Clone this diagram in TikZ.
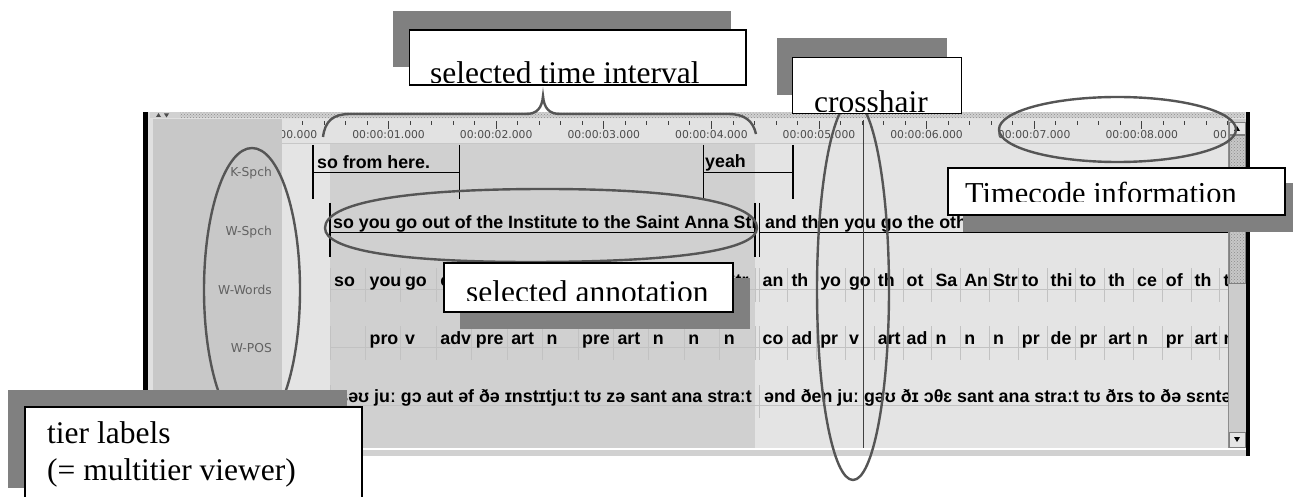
\documentclass[tikz,border=0pt]{standalone}
\usepackage{fontspec}
\setmainfont{Liberation Serif}
\newfontfamily\uifont{DejaVu Sans}
\newfontfamily\annfont{Liberation Sans}
\usetikzlibrary{patterns}
\definecolor{panel}{HTML}{C8C8C8}
\definecolor{trackbg}{HTML}{E4E4E4}
\definecolor{selbg}{HTML}{D0D0D0}
\definecolor{rulerbg}{HTML}{E2E2E2}
\definecolor{gridln}{HTML}{C2C2C2}
\definecolor{shade}{HTML}{808080}
\definecolor{markup}{HTML}{555555}
\tikzset{
  annot/.style={font=\annfont\bfseries\fontsize{17.8}{19}\selectfont, inner sep=0pt, anchor=base west},
  tierlab/.style={font=\uifont\fontsize{12.3}{14}\selectfont, text=black!62, inner sep=0pt, anchor=base east},
  timelab/.style={font=\uifont\fontsize{10.8}{12}\selectfont, text=black!70, inner sep=0pt, anchor=base},
  callout/.style={font=\fontsize{31.5}{37}\selectfont, inner sep=0pt, anchor=base west},
  ring/.style={draw=markup, line width=2.4pt},
  shadowbox/.style={fill=shade},
  framebox/.style={fill=white, draw=black, line width=1.4pt},
  thickbar/.style={line width=1.8pt},
  thinbar/.style={line width=0.9pt},
  cellsep/.style={draw=gridln, line width=0.8pt},
}
\begin{document}
\begin{tikzpicture}[x=1pt,y=-1pt]
\useasboundingbox (0,0) rectangle (1293,497);
\fill[white] (0,0) rectangle (1293,497);

% ---------- viewer window ----------
\fill[black!12] (148,112) rectangle (1246,456);
\fill[black!18] (150,112.5) rectangle (1245,118);
\fill[pattern=crosshatch dots, pattern color=black!45] (180,112.5) rectangle (1245,118);
\fill[black!70] (156,117) -- (158.5,113) -- (161,117) -- cycle;
\fill[black!70] (164,113.5) -- (169,113.5) -- (166.5,117.5) -- cycle;
\fill[panel] (153,119) rectangle (282,448);
\fill[rulerbg] (282,119) rectangle (1228,143);
\fill[trackbg] (282,143) rectangle (1228,448);
\fill[selbg] (330,143) rectangle (755,448);
\draw[black!22, line width=0.8pt] (282,143) -- (1228,143);
\fill[white] (148,448) rectangle (1246,450);
\fill[black!18] (148,450) rectangle (1246,456);

% time ruler
\begin{scope}
  \clip (282,119) rectangle (1228,143);
  \foreach \k in {0,...,47} {
    \pgfmathsetmacro\tx{281+21.52*\k}
    \pgfmathtruncatemacro\major{mod(\k,5)==0 ? 1 : 0}
    \ifnum\major=1
      \draw[black!75, line width=0.8pt] (\tx,121.5) -- (\tx,129.5);
    \else
      \draw[black!75, line width=0.8pt] (\tx,121.5) -- (\tx,125.5);
    \fi
  }
  \foreach \s in {0,...,9} {
    \node[timelab] (tick\s) at (281+107.6*\s,138.5) {00:00:0\s.000};
  }
\end{scope}

% tier names
\node[tierlab] (kspch) at (272,177) {K-Spch};
\node[tierlab] (wspch) at (272,236) {W-Spch};
\node[tierlab] (wwords) at (272,294) {W-Words};
\node[tierlab] (wpos) at (272,352) {W-POS};

% K-Spch tier
\draw[thickbar] (313,145) -- (313,199);
\draw[thinbar] (313,172) -- (459,172);
\draw[thinbar] (459,145) -- (459,199);
\node[annot] (kone) at (317,169) {so from here.};
\draw[thinbar] (703,145) -- (703,199);
\draw[thinbar] (703,172) -- (793,172);
\draw[thickbar] (793,145) -- (793,199);
\node[annot] (ktwo) at (705,168) {yeah};

% W-Spch tier
\draw[thickbar] (330,203) -- (330,257);
\draw[thinbar] (330,232) -- (755,232);
\draw[thickbar] (755,203) -- (755,257);
\draw[thickbar] (759.5,203) -- (759.5,257);
\draw[thinbar] (759.5,232) -- (1228,232);
\begin{scope}
  \clip (331,205) rectangle (754,250);
  \node[annot] (sone) at (333,229) {so you go out of the Institute to the Saint Anna Street};
\end{scope}
\node[annot] (stwo) at (765,229) {and then you go the other Saint};

% W-Words and W-POS tiers: grid
\foreach \gy in {289,347,405} {
  \draw[cellsep] (330,\gy) -- (1228,\gy);
}
\foreach \i in {0,...,12} {
  \pgfmathsetmacro\sx{330+35.42*\i}
  \draw[cellsep] (\sx,268) -- (\sx,302);
  \draw[cellsep] (\sx,326) -- (\sx,360);
}
\foreach \i in {0,...,16} {
  \pgfmathsetmacro\sx{759+28.8*\i}
  \draw[cellsep] (\sx,268) -- (\sx,302);
  \draw[cellsep] (\sx,326) -- (\sx,360);
}
\draw[cellsep] (330,385) -- (330,418);
\draw[cellsep] (759,385) -- (759,418);

% word cells (the cells under the annotation callout are left out)
\foreach \w/\i in {so/0,you/1,go/2,out/3,Str/11} {
  \pgfmathsetmacro\cx{330+35.42*\i}
  \begin{scope}
    \clip (\cx,262) rectangle (\cx+34.5,300);
    \node[annot] (wl\i) at (\cx+4,286) {\w};
  \end{scope}
}
\foreach \w [count=\i from 0] in {an,th,yo,go,th,ot,Sa,An,Str,to,thi,to,th,ce,of,th,t} {
  \pgfmathsetmacro\cx{759+28.8*\i}
  \begin{scope}
    \clip (\cx,262) rectangle (1228,300);
    \clip (\cx,262) rectangle (\cx+28,300);
    \node[annot] (wr\i) at (\cx+3.5,286) {\w};
  \end{scope}
}
% part-of-speech cells
\foreach \w [count=\i from 0] in {{},pro,v,adv,pre,art,n,pre,art,n,n,n} {
  \pgfmathsetmacro\cx{330+35.42*\i}
  \begin{scope}
    \clip (\cx,320) rectangle (\cx+34.5,358);
    \node[annot] (pl\i) at (\cx+4,344) {\w};
  \end{scope}
}
\foreach \w [count=\i from 0] in {co,ad,pr,v,art,ad,n,n,n,pr,de,pr,art,n,pr,art,n} {
  \pgfmathsetmacro\cx{759+28.8*\i}
  \begin{scope}
    \clip (\cx,320) rectangle (1228,358);
    \clip (\cx,320) rectangle (\cx+28,358);
    \node[annot] (pr\i) at (\cx+3.5,344) {\w};
  \end{scope}
}

% phonetic tier
\begin{scope}
  \clip (331,380) rectangle (755,415);
  \node[annot, anchor=base east] (ione) at (752,402) {səʊ juː gɔ aut əf ðə ɪnstɪtjuːt tʊ zə sant ana straːt};
\end{scope}
\begin{scope}
  \clip (761,380) rectangle (1228,415);
  \node[annot] (itwo) at (764,402) {ənd ðen juː gəʊ ðɪ ɔθɛ sant ana straːt tʊ ðɪs to ðə sɛntə};
\end{scope}

% crosshair
\draw[black!75, line width=0.9pt] (863,120) -- (863,448);

% scrollbar
\fill[black!20] (1228,119) rectangle (1246,448);
\draw[black!45, line width=0.8pt] (1228.5,119) -- (1228.5,448);
\fill[black!10] (1229,122) rectangle (1245,134);
\draw[black!50, line width=0.6pt] (1229,122) rectangle (1245,134);
\fill[black] (1234,131) -- (1237,126) -- (1240,131) -- cycle;
\fill[black!22] (1229.5,135) rectangle (1245,283);
\fill[pattern=crosshatch dots, pattern color=black!45] (1229.5,135) rectangle (1245,283);
\draw[black!50, line width=0.6pt] (1229.5,135) rectangle (1245,283);
\fill[black!10] (1229,432) rectangle (1245,447);
\draw[black!50, line width=0.6pt] (1229,432) rectangle (1245,447);
\fill[black] (1234,437) -- (1240,437) -- (1237,442) -- cycle;

% frame borders
\fill[black] (143,112) rectangle (148,456);
\fill[black] (1246,112) rectangle (1250,456);

% ---------- marking strokes ----------
\draw[ring] (323,137) .. controls (325,121) and (333,114) .. (350,114)
  -- (526,114) .. controls (537,114) and (542,108) .. (543,96)
  .. controls (544,108) and (549,114) .. (560,114)
  -- (728,114) .. controls (745,114) and (753,121) .. (756,134);
\draw[ring] (252,290) ellipse [x radius=48, y radius=142];
\draw[ring] (853,290) ellipse [x radius=36, y radius=190];
\draw[ring] (1117.5,129.5) ellipse [x radius=118.5, y radius=32.5];
\draw[ring] (325,228) .. controls (325,203) and (402,189) .. (545,189)
  .. controls (683,189) and (757,203) .. (757,228)
  .. controls (757,250) and (678,262) .. (530,262)
  .. controls (397,262) and (325,250) .. (325,228) -- cycle;

% ---------- callouts ----------
% selected time interval
\fill[shadowbox] (393,11) rectangle (731,67);
\draw[framebox] (409.5,30) rectangle (746,85);
\begin{scope}
  \clip (410,31) rectangle (745,82.3);
  \node[callout] (cinterval) at (430,84) {selected time interval};
\end{scope}
% crosshair
\fill[shadowbox] (777,38) rectangle (947,95);
\draw[framebox] (792.5,57.5) rectangle (961.5,113.5);
\begin{scope}
  \clip (793,58) rectangle (961,111.3);
  \node[callout] (ccross) at (814,113) {crosshair};
\end{scope}
% timecode information
\fill[shadowbox] (963,183) rectangle (1293,232);
\draw[framebox] (948,168) rectangle (1285,215);
\begin{scope}
  \clip (949,169) rectangle (1284,201.7);
  \node[callout, font=\fontsize{30.4}{36}\selectfont] (ctime) at (965,203.5) {Timecode information};
\end{scope}
% selected annotation
\fill[shadowbox] (460,278) rectangle (750,329);
\draw[framebox] (444,263) rectangle (733,312);
\begin{scope}
  \clip (445,264) rectangle (732,300);
  \node[callout] (cannot) at (466,302) {selected annotation};
\end{scope}
% tier labels
\fill[shadowbox] (8,390) rectangle (347,488);
\draw[framebox] (25,407) rectangle (362,505);
\node[callout] (ctierone) at (47,443) {tier labels};
\node[callout] (ctiertwo) at (47,480) {(= multitier viewer)};
\end{tikzpicture}
\end{document}
